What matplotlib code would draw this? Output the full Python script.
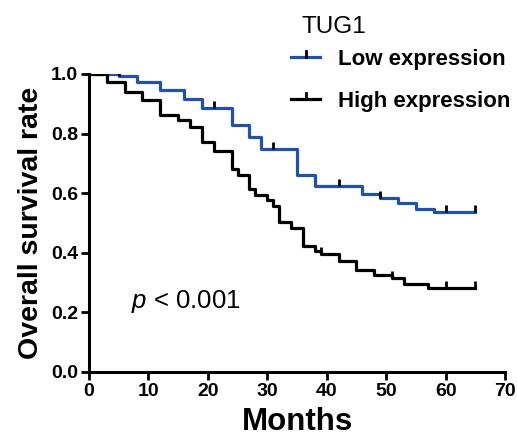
import numpy as np
import matplotlib
matplotlib.use('Agg')
import matplotlib.pyplot as plt
from matplotlib.lines import Line2D

plt.rcParams['font.family'] = ['Liberation Sans', 'DejaVu Sans']
plt.rcParams['mathtext.fontset'] = 'custom'
plt.rcParams['mathtext.rm'] = 'Liberation Sans'
plt.rcParams['mathtext.it'] = 'Liberation Sans:italic'

# Kaplan-Meier steps (months, survival)
low_t = [0, 5, 8, 12, 16, 19, 24, 27, 29, 35, 38, 46, 49, 52, 55, 58, 65]
low_s = [1.0, 0.993, 0.972, 0.945, 0.915, 0.886, 0.828, 0.788, 0.748, 0.662,
         0.623, 0.596, 0.584, 0.566, 0.547, 0.536, 0.536]
low_censor = [5, 21, 31, 42, 49, 60, 65]

high_t = [0, 3, 6, 9, 12, 15, 17, 19, 21, 24, 25, 27, 28, 30, 31, 32, 34, 36,
          38, 39, 42, 45, 48, 51, 53, 57, 65]
high_s = [1.0, 0.972, 0.941, 0.913, 0.862, 0.844, 0.823, 0.772, 0.742, 0.680,
          0.661, 0.614, 0.594, 0.577, 0.557, 0.503, 0.483, 0.423, 0.406, 0.395,
          0.373, 0.342, 0.326, 0.314, 0.294, 0.283, 0.283]
high_censor = [39, 51, 60, 65]

x_ticks = [0, 10, 20, 30, 40, 50, 60, 70]
y_ticks = [0.0, 0.2, 0.4, 0.6, 0.8, 1.0]

blue = '#2152a8'
lw = 2.3


def surv_at(times, surv, tc):
    # value of the step function at each censor time
    idx = np.searchsorted(times, tc, side='right') - 1
    return np.asarray(surv)[idx]


fig = plt.figure(figsize=(5.17, 4.41), dpi=100)
ax = fig.add_axes([89/517, 1-372/441, (505-89)/517, (372-74)/441])

ax.step(low_t, low_s, where='post', color=blue, lw=lw, zorder=3)
ax.plot(low_censor, surv_at(low_t, low_s, low_censor), ls='none', marker=2,
        ms=5, mew=2.0, color='black', zorder=4)

ax.step(high_t, high_s, where='post', color='black', lw=lw, zorder=5)
ax.plot(high_censor, surv_at(high_t, high_s, high_censor), ls='none', marker=2,
        ms=5, mew=2.0, color='black', zorder=6)

ax.set_xlim(0, 70)
ax.set_ylim(0, 1.0)
ax.set_xticks(x_ticks)
ax.set_yticks(y_ticks)
ax.set_yticklabels(['%.1f' % v for v in y_ticks])
for s in ['top', 'right']:
    ax.spines[s].set_visible(False)
for s in ['left', 'bottom']:
    ax.spines[s].set_linewidth(2.2)
ax.tick_params(width=2.0, length=6, labelsize=14, pad=2)
for lab in ax.get_xticklabels() + ax.get_yticklabels():
    lab.set_fontweight('bold')

ax.set_xlabel('Months', fontsize=22.5, fontweight='bold', labelpad=5)
ax.set_ylabel('Overall survival rate', fontsize=20.5, fontweight='bold', labelpad=5)

ax.text(131/517, 1-308/441, '$p$ < 0.001', transform=fig.transFigure,
        fontsize=18.5, ha='left', va='baseline')

# legend drawn by hand
fig.text(302/517, 1-33/441, 'TUG1', fontsize=17.5, ha='left', va='baseline')
leg = [(blue, 'Low expression', 57), ('black', 'High expression', 99)]
for col, name, yy in leg:
    yf = 1 - yy/441
    fig.add_artist(Line2D([291/517, 320/517], [yf, yf], color=col, lw=lw,
                          transform=fig.transFigure))
    fig.add_artist(Line2D([305.5/517, 305.5/517], [yf, yf + 6/441], color='black',
                          lw=2.0, transform=fig.transFigure))
    fig.text(338/517, yf - 8/441, name, fontsize=16, fontweight='bold',
             ha='left', va='baseline')

fig.savefig('out.png', dpi=100)
